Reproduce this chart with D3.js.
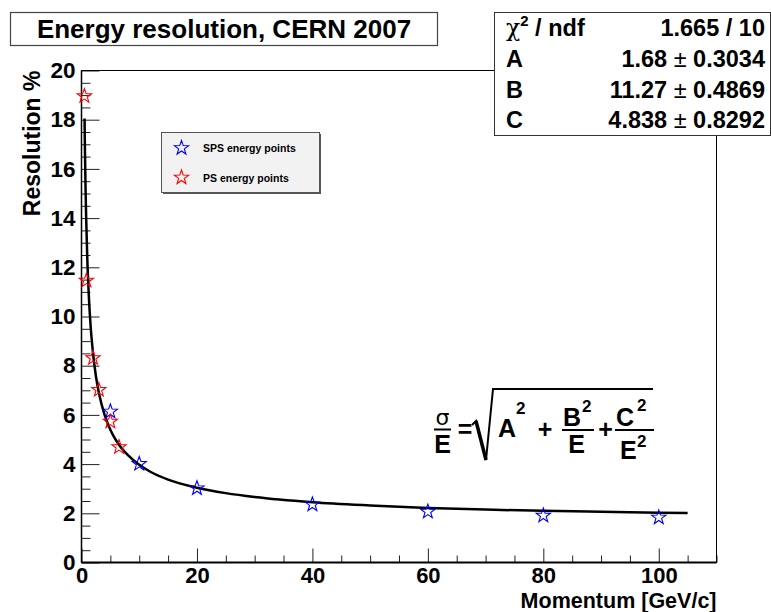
<!DOCTYPE html>
<html><head><meta charset="utf-8">
<script src="https://cdn.jsdelivr.net/npm/d3@7"></script>
<style>
body{margin:0;background:#fff}
svg{display:block;font-family:"Liberation Sans",Arial,Helvetica,sans-serif;font-weight:bold}
</style>
</head><body><svg id="c" width="771" height="612"></svg>
<script>
// ---- data ----
const psMomentum   = [0.5, 0.85, 2, 3, 5, 6.5];
const psResolution = [19.0, 11.5, 8.35, 7.06, 5.77, 4.73];
const spsMomentum   = [5, 10, 20, 40, 60, 80, 100];
const spsResolution = [6.18, 4.05, 3.06, 2.40, 2.11, 1.95, 1.87];
const fitMomentum   = [0.53, 0.6, 0.7, 0.8, 1, 1.25, 1.5, 2, 2.5, 3, 4, 5, 6, 7, 8, 10, 12, 15, 20, 25, 30, 40, 50, 60, 70, 80, 90, 100, 105];
const fitResolution = [18.05, 16.72, 15.23, 14.08, 12.38, 10.93, 9.89, 8.50, 7.57, 6.91, 6.00, 5.40, 4.96, 4.63, 4.37, 3.97, 3.68, 3.37, 3.04, 2.82, 2.66, 2.45, 2.32, 2.22, 2.15, 2.10, 2.06, 2.02, 2.01];
const xMajorTicks = [0, 20, 40, 60, 80, 100];
const yMajorTicks = [0, 2, 4, 6, 8, 10, 12, 14, 16, 18, 20];
const statNames  = ["ndf", "A", "B", "C"];
const statValues = ["1.665 / 10", "1.68 \u00b1 0.3034", "11.27 \u00b1 0.4869", "4.838 \u00b1 0.8292"];
const legendLabels = ["SPS energy points", "PS energy points"];
const titleText = "Energy resolution, CERN 2007";
const xTitle = "Momentum [GeV/c]";
const yTitle = "Resolution %";

// ---- layout ----
const svg = d3.select("#c");
const L = 81.5, R = 716.5, T = 70.5, B = 562.5;
const x = d3.scaleLinear().domain([0, 110]).range([L, R]);
const y = d3.scaleLinear().domain([0, 20]).range([B, T]);

svg.append("rect").attr("width", 771).attr("height", 612).attr("fill", "#fff");

// ticks
const xMinor = d3.range(0, 110.001, 5).filter(v => v % 20 !== 0);
const yMinor = d3.range(0, 20.001, 0.5).filter(v => v % 2 !== 0);

const gx = svg.append("g").attr("transform", `translate(0,${B})`);
gx.call(d3.axisBottom(x).tickValues(xMinor).tickSize(-7).tickFormat(""));
gx.call(g => g.select(".domain").remove());
const gx2 = svg.append("g").attr("class", "xmaj").attr("transform", `translate(0,${B})`);
gx2.call(d3.axisBottom(x).tickValues(xMajorTicks).tickSize(-14).tickPadding(4.5).tickFormat(d3.format("d")));
gx2.call(g => g.select(".domain").remove());

const gy = svg.append("g").attr("transform", `translate(${L},0)`);
gy.call(d3.axisLeft(y).tickValues(yMinor).tickSize(-9).tickFormat(""));
gy.call(g => g.select(".domain").remove());
const gy2 = svg.append("g").attr("transform", `translate(${L},0)`);
gy2.call(d3.axisLeft(y).tickValues(yMajorTicks).tickSize(-18).tickPadding(6).tickFormat(d3.format("d")));
gy2.call(g => g.select(".domain").remove());

svg.selectAll(".tick line").attr("stroke", "#222").attr("stroke-width", 1);
svg.selectAll(".tick text").attr("font-size", 22.5).attr("font-weight", "bold")
  .attr("font-family", '"Liberation Sans",Arial,sans-serif').attr("fill", "#000");
svg.selectAll(".xmaj .tick text").attr("font-size", 22);

// frame
svg.append("rect").attr("x", L).attr("y", T).attr("width", R - L).attr("height", B - T)
  .attr("fill", "none").attr("stroke", "#000").attr("stroke-width", 1);
svg.append("line").attr("x1", L).attr("x2", R).attr("y1", B).attr("y2", B).attr("stroke", "#000").attr("stroke-width", 2);
svg.append("line").attr("x1", L).attr("x2", L).attr("y1", T).attr("y2", B).attr("stroke", "#000").attr("stroke-width", 1.5);

// fit curve
const fitData = fitMomentum.map((m, i) => [m, fitResolution[i]]);
svg.append("path").datum(fitData)
  .attr("d", d3.line().x(d => x(d[0])).y(d => y(d[1])).curve(d3.curveMonotoneX))
  .attr("fill", "none").attr("stroke", "#000").attr("stroke-width", 2.5);

// star markers
function starPath(r) {
  const pts = [];
  for (let i = 0; i < 10; i++) {
    const a = -Math.PI / 2 + i * Math.PI / 5;
    const rr = i % 2 === 0 ? r : r * 0.4;
    pts.push([rr * Math.cos(a), rr * Math.sin(a)]);
  }
  return "M" + pts.map(p => p[0].toFixed(2) + "," + p[1].toFixed(2)).join("L") + "Z";
}
const star = starPath(7.5);
function drawStars(xs, ys, color) {
  svg.append("g").selectAll("path").data(xs.map((m, i) => [m, ys[i]])).join("path")
    .attr("d", star).attr("transform", d => `translate(${x(d[0])},${y(d[1]) + 1})`)
    .attr("fill", "none").attr("stroke", color).attr("stroke-width", 1.1);
}
drawStars(spsMomentum, spsResolution, "#0000ff");
drawStars(psMomentum, psResolution, "#ff0000");

// axis titles
svg.append("text").attr("x", R).attr("y", 607.5).attr("text-anchor", "end")
  .attr("font-size", 21.5).text(xTitle);
svg.append("text").attr("transform", `translate(40,${T}) rotate(-90)`).attr("text-anchor", "end")
  .attr("font-size", 23).text(yTitle);

// title box
svg.append("rect").attr("x", 10.5).attr("y", 12.5).attr("width", 427).attr("height", 33)
  .attr("fill", "#fff").attr("stroke", "#444").attr("stroke-width", 1.2);
svg.append("text").attr("x", 224).attr("y", 38).attr("text-anchor", "middle")
  .attr("font-size", 26).text(titleText);

// stats box
svg.append("rect").attr("x", 494.5).attr("y", 12.5).attr("width", 276).attr("height", 123)
  .attr("fill", "#fff").attr("stroke", "#333").attr("stroke-width", 1);
const rowH = 30.6;
statNames.forEach((n, i) => {
  const by = 12.5 + rowH * (i + 0.5) + 8.5;
  const t = svg.append("text").attr("x", 506).attr("y", by).attr("font-size", 23.5);
  if (i === 0) {
    t.append("tspan").attr("font-family", '"DejaVu Serif",serif').attr("font-weight", "normal").text("\u03c7");
    t.append("tspan").attr("font-size", 15).attr("dy", -10).text("2");
    t.append("tspan").attr("dy", 10).text(" / ndf");
  } else {
    t.text(n);
  }
  const v = statValues[i];
  const vt = svg.append("text").attr("x", 765).attr("y", by).attr("text-anchor", "end").attr("font-size", 23.5);
  if (v.includes("\u00b1")) {
    const parts = v.split(" \u00b1 ");
    vt.append("tspan").text(parts[0] + " ");
    vt.append("tspan").attr("font-weight", "normal").text("\u00b1");
    vt.append("tspan").text(" " + parts[1]);
  } else vt.text(v);
});

// legend
svg.append("rect").attr("x", 163).attr("y", 134).attr("width", 158).attr("height", 60).attr("fill", "#555");
svg.append("rect").attr("x", 161.5).attr("y", 132.5).attr("width", 158).attr("height", 60)
  .attr("fill", "#f2f2f2").attr("stroke", "#555").attr("stroke-width", 1);
const legColors = ["#0000ff", "#ff0000"];
legendLabels.forEach((lab, i) => {
  const cy = 148 + i * 29.5;
  svg.append("path").attr("d", star).attr("transform", `translate(181.5,${cy})`)
    .attr("fill", "none").attr("stroke", legColors[i]).attr("stroke-width", 1.1);
  svg.append("text").attr("x", 203).attr("y", cy + 4).attr("font-size", 10.5).text(lab);
});

// formula  sigma/E = sqrt(A^2 + B^2/E + C^2/E^2)
const f = svg.append("g").attr("font-size", 25);
function bar(x1, x2, yy) { f.append("line").attr("x1", x1).attr("x2", x2).attr("y1", yy).attr("y2", yy).attr("stroke", "#000").attr("stroke-width", 2); }
f.append("text").attr("x", 442.5).attr("y", 425).attr("text-anchor", "middle").attr("font-weight", "normal")
  .attr("font-family", '"DejaVu Sans",sans-serif').attr("font-size", 22).text("\u03c3");
bar(434, 451, 429.5);
f.append("text").attr("x", 442.5).attr("y", 453).attr("text-anchor", "middle").text("E");
f.append("text").attr("x", 465).attr("y", 438).attr("text-anchor", "middle").text("=");
f.append("path").attr("d", "M472,425 L476,421 L486,460 L493,389 L653,389")
  .attr("fill", "none").attr("stroke", "#000").attr("stroke-width", 2).attr("stroke-linejoin", "miter");
f.append("path").attr("d", "M476,421 L486,460").attr("stroke", "#000").attr("stroke-width", 3.5);
f.append("text").attr("x", 498).attr("y", 437).text("A");
f.append("text").attr("x", 516).attr("y", 414).attr("font-size", 17).text("2");
f.append("text").attr("x", 545).attr("y", 438).attr("text-anchor", "middle").text("+");
f.append("text").attr("x", 563).attr("y", 426).text("B");
f.append("text").attr("x", 582).attr("y", 412).attr("font-size", 17).text("2");
bar(562, 594, 430);
f.append("text").attr("x", 576.5).attr("y", 453).attr("text-anchor", "middle").text("E");
f.append("text").attr("x", 605.5).attr("y", 438).attr("text-anchor", "middle").text("+");
f.append("text").attr("x", 616).attr("y", 426).text("C");
f.append("text").attr("x", 637).attr("y", 411).attr("font-size", 17).text("2");
bar(615, 654, 430);
f.append("text").attr("x", 620).attr("y", 459).text("E");
f.append("text").attr("x", 637).attr("y", 447).attr("font-size", 17).text("2");
</script>
</body></html>
